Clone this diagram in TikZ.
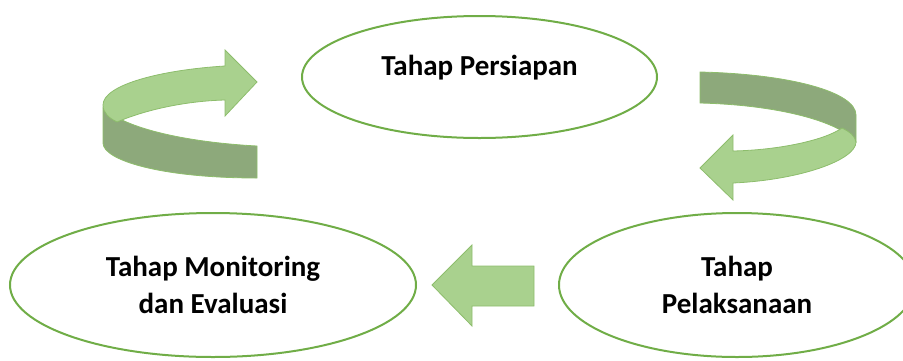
\documentclass[tikz,border=0pt]{standalone}
\usepackage{fontspec}
\setmainfont{Carlito}
\usetikzlibrary{shapes.geometric}
\definecolor{stagegreen}{HTML}{70AD47}
\definecolor{bandlight}{HTML}{A9D18E}
\definecolor{banddark}{HTML}{8DA97B}
\tikzset{
  stage/.style={ellipse, draw=stagegreen, line width=2pt, inner sep=0pt,
    align=center, font=\fontsize{29}{37}\selectfont\bfseries},
  bandfront/.style={fill=bandlight, draw=stagegreen!80, line width=0.8pt},
  bandback/.style={fill=banddark, draw=stagegreen!80, line width=0.8pt}
}
\begin{document}
\begin{tikzpicture}[x=1pt, y=-1pt]
        \clip (0,0) rectangle (903,360);

        % Draw ellipses for each stage
        \node[stage, minimum width=355pt, minimum height=122pt] (persiapan) at (479.5,77) {};
        \node[stage, minimum width=406pt, minimum height=144pt] (monitoring) at (213,285) {Tahap Monitoring\\dan Evaluasi};
        \node[stage, minimum width=356pt, minimum height=144pt] (pelaksanaan) at (737,285) {Tahap\\Pelaksanaan};

        % Add label of the first stage
        \node[font=\fontsize{29}{37}\selectfont\bfseries] (persiapan-text) at ([yshift=9pt]persiapan.center) {Tahap Persiapan};

        % Draw curved arrow on the left
        \draw[bandback] (257,146) .. controls (200,143) and (130,132) .. (103,108) -- (103,143)
            .. controls (103,160) and (160,178) .. (257,178) -- cycle;
        \draw[bandfront] (225,66) .. controls (160,70) and (103,85) .. (103,105)
            .. controls (103,113) and (109,118) .. (117,122)
            .. controls (145,110) and (185,101) .. (225,100)
            -- (225,116) -- (257,82) -- (225,50) -- cycle;

        % Draw curved arrow on the right
        \draw[bandback] (700,72) .. controls (790,74) and (856,92) .. (856,115) -- (856,142)
            .. controls (840,122) and (780,105) .. (700,103) -- cycle;
        \draw[bandfront] (856,142) .. controls (856,160) and (800,180) .. (733,183)
            -- (733,200) -- (700,168) -- (733,135) -- (733,151)
            .. controls (780,150) and (825,140) .. (842,128)
            .. controls (850,132) and (855,136) .. (856,142) -- cycle;

        % Draw straight arrow between the lower stages
        \draw[bandfront] (534,266) -- (472,266) -- (472,245) -- (432,285)
            -- (472,326) -- (472,306) -- (534,306) -- cycle;

    \end{tikzpicture}
\end{document}
